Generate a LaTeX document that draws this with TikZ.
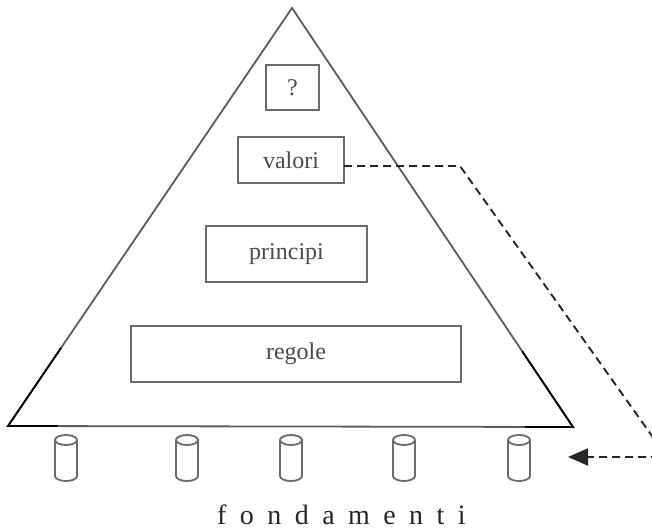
\documentclass[tikz,border=0pt]{standalone}
\usepackage{fontspec}
\setmainfont{Liberation Serif}
\newfontfamily\spacedfont[LetterSpace=48]{Liberation Serif}
\usetikzlibrary{arrows.meta,calc}

\definecolor{boxgray}{HTML}{6A6A6A}
\definecolor{labelgray}{HTML}{4A4A4A}
\definecolor{edgegray}{HTML}{5C5C5C}

\tikzset{
  level/.style={draw=boxgray, line width=2pt, inner sep=0pt, outer sep=0pt,
    text=labelgray, font=\fontsize{24}{26}\selectfont},
  tribase/.style={draw=edgegray, line width=1.8pt, line join=miter},
  triblack/.style={draw=black, line width=1.8pt},
  pillarline/.style={draw=boxgray, line width=1.8pt},
  pics/pillar/.style={code={
    \draw[pillarline] (-11,-18) -- (-11,18)
      arc[start angle=180, end angle=0, x radius=11, y radius=5] -- (11,-18);
    \draw[pillarline] (0,-18) ellipse [x radius=11, y radius=5];
  }},
  link/.style={draw=black!85, line width=1.9pt, dash pattern=on 8pt off 5pt},
}

\begin{document}
\begin{tikzpicture}[x=1pt, y=-1pt]
  \clip (0,0) rectangle (652,530);
  \fill[white] (0,0) rectangle (652,530);

  % pyramid outline
  \coordinate (apex) at (292,8);
  \coordinate (bl) at (8,426);
  \coordinate (br) at (573,427);
  \draw[tribase] (apex) -- (bl) -- (br) -- cycle;
  \draw[triblack] ($(bl)!0.187!(apex)$) -- (bl) -- ($(bl)!0.088!(br)$);
  \draw[triblack] ($(br)!0.181!(apex)$) -- (br) -- ($(br)!0.085!(bl)$);

  % levels of the pyramid
  \node[level, minimum width=53pt, minimum height=45pt] (top) at (292.5,87.5) {?};
  \node[level, minimum width=106pt, minimum height=46pt] (valori) at (291,160) {valori};
  \node[level, minimum width=161pt, minimum height=56pt] (principi) at (286.5,254) {principi};
  \node[level, minimum width=330pt, minimum height=56pt] (regole) at (296,354) {regole};

  % foundation pillars
  \pic at (66,458) {pillar};
  \pic at (187,458) {pillar};
  \pic at (291,458) {pillar};
  \pic at (404,458) {pillar};
  \pic at (519,458) {pillar};

  \node[anchor=base west, inner sep=0pt, text=black!85,
    font=\spacedfont\fontsize{28}{30}\selectfont] (fond) at (217,524) {fondamenti};

  % feedback from the values down to the foundations
  \coordinate (bend1) at (460,166);
  \coordinate (bend2) at (667,457);
  \coordinate (tip) at (568,457);
  \draw[link, -{Triangle[length=20pt, width=17pt]}]
    (valori.east |- bend1) -- (bend1) -- (bend2) -- (tip);
\end{tikzpicture}
\end{document}
